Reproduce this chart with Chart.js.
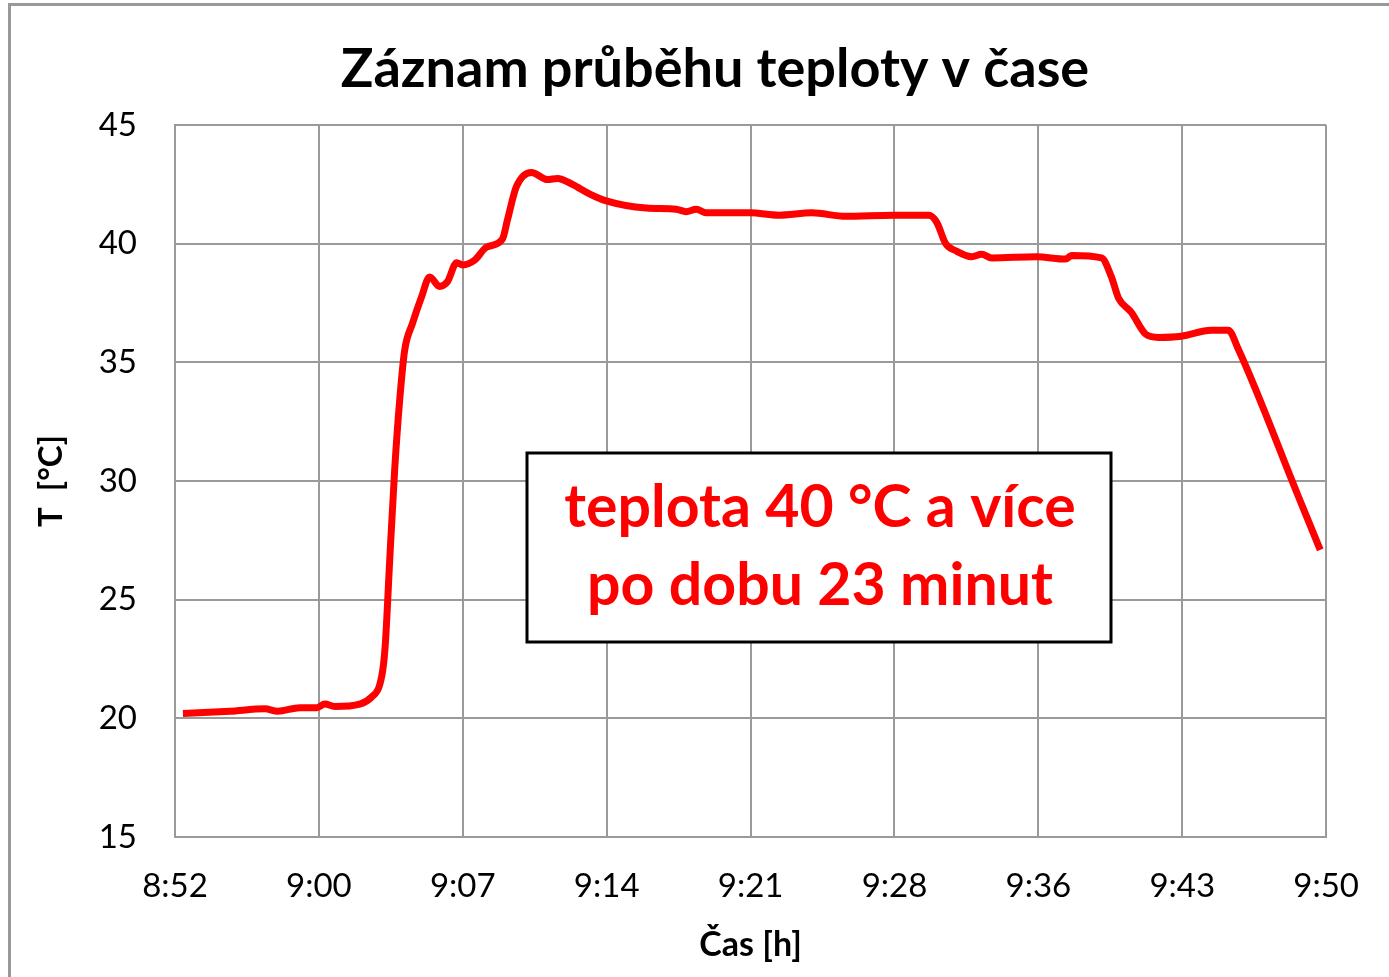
<!DOCTYPE html>
<html>
<head>
<meta charset="utf-8">
<script src="https://cdn.jsdelivr.net/npm/chart.js@4/dist/chart.umd.min.js"></script>
<style>
  body { margin: 0; background: #fff; }
  #wrap { position: relative; width: 1389px; height: 977px; }
  #frame { position: absolute; left: 8px; top: 3px; right: -5px; bottom: -5px;
           border-left: 3px solid #999; border-top: 3px solid #999; pointer-events: none; }
</style>
</head>
<body>
<div id="wrap">
  <canvas id="myChart" width="1389" height="977"></canvas>
  <div id="frame"></div>
</div>
<script>
// minutes after 8:52 and measured temperature
var minutes = [0.40, 2.77, 4.53, 5.18, 6.29, 7.14, 7.55, 8.05, 9.31, 9.91,
    10.31, 10.51, 10.61, 10.82, 11.07, 11.32, 11.57, 11.97, 12.42, 12.83,
    13.33, 13.73, 14.19, 14.49, 15.09, 15.69, 16.50, 16.75, 17.20, 17.96,
    18.76, 19.27, 20.02, 20.88, 21.73, 23.74, 25.25, 25.75, 26.26, 26.76,
    28.97, 30.43, 32.09, 33.80, 36.17, 37.98, 38.38, 38.83, 39.34, 40.14,
    40.64, 41.15, 43.41, 44.87, 45.17, 46.68, 47.18, 47.54, 48.19, 48.89,
    49.55, 50.70, 52.21, 53.07, 53.57, 56.59, 57.70];
var temps = [20.2, 20.3, 20.4, 20.3, 20.45, 20.45, 20.6, 20.5, 20.6, 20.9,
    21.4, 22.3, 23.3, 26.7, 30.5, 33.4, 35.5, 36.65, 37.75, 38.6,
    38.2, 38.4, 39.2, 39.1, 39.3, 39.85, 40.2, 41.0, 42.4, 43.0,
    42.7, 42.75, 42.5, 42.1, 41.8, 41.5, 41.45, 41.35, 41.45, 41.3,
    41.3, 41.2, 41.3, 41.15, 41.2, 41.2, 40.9, 40.0, 39.7, 39.45,
    39.55, 39.4, 39.45, 39.35, 39.5, 39.4, 38.6, 37.7, 37.1, 36.2,
    36.05, 36.1, 36.35, 36.35, 35.56, 29.37, 27.1];

var tickMinutes = [0, 7.25, 14.5, 21.75, 29, 36.25, 43.5, 50.75, 58];
var tickLabels = ['8:52', '9:00', '9:07', '9:14', '9:21', '9:28', '9:36', '9:43', '9:50'];

var chartTitle = 'Záznam průběhu teploty v čase';
var noteLines = ['teplota 40 °C a více', 'po dobu 23 minut'];

var gridColor = '#9a9a9a';
var font = 'Lato';

var points = [];
for (var i = 0; i < minutes.length; i++) {
    points.push({x: minutes[i], y: temps[i]});
}

// title + text box drawn on top
var extras = {
    id: 'extras',
    afterDraw: function(chart) {
        var ctx = chart.ctx;
        ctx.save();
        ctx.fillStyle = '#000';
        ctx.font = 'bold 54px ' + font;
        ctx.textAlign = 'center';
        ctx.textBaseline = 'alphabetic';
        ctx.fillText(chartTitle, 715, 87);

        // note box
        ctx.fillStyle = '#fff';
        ctx.fillRect(527, 453, 584, 189);
        ctx.lineWidth = 3;
        ctx.strokeStyle = '#000';
        ctx.strokeRect(527, 453, 584, 189);
        ctx.fillStyle = '#ff0000';
        ctx.font = 'bold 59px ' + font;
        ctx.fillText(noteLines[0], 820, 527);
        ctx.fillText(noteLines[1], 820, 605);
        ctx.restore();
    }
};

var config = {
    type: 'line',
    data: {
        datasets: [{
            data: points,
            borderColor: '#ff0000',
            borderWidth: 7,
            pointRadius: 0,
            cubicInterpolationMode: 'monotone',
            fill: false
        }]
    },
    options: {
        responsive: false,
        animation: false,
        layout: {
            padding: {left: 0, right: 61, top: 125, bottom: 0}
        },
        plugins: {
            legend: {display: false},
            title: {display: false},
            tooltip: {enabled: false}
        },
        scales: {
            x: {
                type: 'linear',
                min: 0,
                max: 58,
                afterBuildTicks: function(scale) {
                    scale.ticks = tickMinutes.map(function(v) { return {value: v}; });
                },
                afterFit: function(scale) { scale.height = 140; },
                grid: {color: gridColor, lineWidth: 2, drawTicks: false},
                border: {color: gridColor, width: 2},
                ticks: {
                    autoSkip: false,
                    maxRotation: 0,
                    padding: 30,
                    color: '#000',
                    font: {family: font, size: 33},
                    callback: function(value, index) { return tickLabels[index]; }
                },
                title: {
                    display: true,
                    text: 'Čas [h]',
                    color: '#000',
                    font: {family: font, size: 34, weight: 'bold'},
                    padding: {top: 0, bottom: 12}
                }
            },
            y: {
                min: 15,
                max: 45,
                afterFit: function(scale) { scale.width = 175; },
                grid: {color: gridColor, lineWidth: 2, drawTicks: false},
                border: {color: gridColor, width: 2},
                ticks: {
                    stepSize: 5,
                    padding: 38,
                    color: '#000',
                    font: {family: font, size: 33}
                },
                title: {
                    display: true,
                    text: 'T  [°C]',
                    color: '#000',
                    font: {family: font, size: 33, weight: 'bold'},
                    padding: {top: 32, bottom: 0}
                }
            }
        }
    },
    plugins: [extras]
};

window.onload = function() {
    var ctx = document.getElementById('myChart').getContext('2d');
    window.myLine = new Chart(ctx, config);
};
</script>
</body>
</html>
